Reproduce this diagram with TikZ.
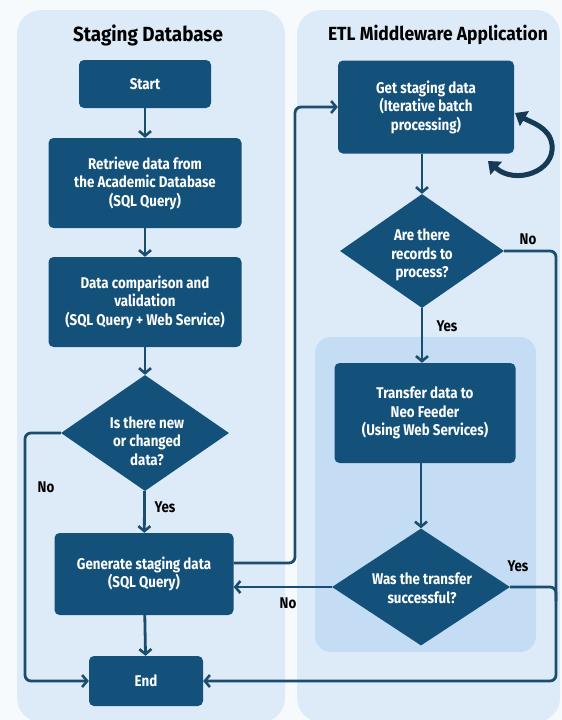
\documentclass[tikz,border=0pt]{standalone}
\usepackage{fontspec}
\setmainfont{PT Sans}
\newfontfamily\condf[FakeStretch=0.86]{Fira Sans}
\newfontfamily\ttlf[FakeStretch=0.92]{Fira Sans}
\usetikzlibrary{shapes.geometric,arrows.meta}
\definecolor{bgc}{HTML}{F7FAFD}
\definecolor{panelc}{HTML}{DDEBF9}
\definecolor{innerc}{HTML}{C5DDF4}
\definecolor{boxc}{HTML}{14517A}
\definecolor{linec}{HTML}{1B4D6E}
\definecolor{loopc}{HTML}{163A55}
\begin{document}
\begin{tikzpicture}[x=1pt,y=-1pt,
  boxtxt/.style={font=\condf\fontsize{15.5}{18.5}\selectfont\bfseries},
  flowbox/.style={boxtxt, fill=boxc, text=white, rounded corners=5pt, align=center, inner sep=0pt},
  dia/.style={diamond, fill=boxc, inner sep=0pt, aspect=1.45},
  diatxt/.style={boxtxt, text=white, align=center, inner sep=0pt},
  conn/.style={draw=linec, line width=2.8pt, rounded corners=6pt, -{Straight Barb[length=5pt,width=12pt,line width=2.6pt]}},
  plain/.style={draw=linec, line width=2.8pt, rounded corners=6pt},
  lbl/.style={font=\condf\fontsize{15.5}{17}\selectfont\bfseries, text=black, inner sep=0pt},
  ttl/.style={font=\ttlf\fontsize{19}{22}\selectfont\bfseries, text=black, inner sep=0pt}]
\useasboundingbox (0,0) rectangle (562,720);
\fill[bgc] (0,0) rectangle (562,720);
% panels
\fill[panelc, rounded corners=24pt] (17,10) rectangle (285,722);
\fill[panelc, rounded corners=24pt] (297,10) rectangle (560,722);
\fill[innerc, rounded corners=16pt] (315,337) rectangle (536,652);
% titles
\node[ttl, font=\ttlf\fontsize{20.5}{22}\selectfont\bfseries] (t1) at (148,35) {Staging Database};
\node[ttl] (t2) at (438,35) {ETL Middleware Application};
% left column
\node[flowbox, minimum width=132pt, minimum height=48pt] (start) at (145,84) {Start};
\node[flowbox, minimum width=193pt, minimum height=90pt] (retr) at (145,183) {Retrieve data from\\the Academic Database\\(SQL Query)};
\node[flowbox, minimum width=193pt, minimum height=90pt] (comp) at (145,302) {Data comparison and\\validation\\(SQL Query + Web Service)};
\node[dia, minimum width=168pt, minimum height=116pt] (d1) at (145,433) {};
\node[diatxt] (d1t) at (147,441) {Is there new\\or changed\\data?};
\node[flowbox, minimum width=179pt, minimum height=82pt] (gen) at (144,574) {Generate staging data\\(SQL Query)};
\node[flowbox, minimum width=114pt, minimum height=50pt] (endb) at (146,681) {End};
% right column
\node[flowbox, minimum width=176pt, minimum height=93pt] (get) at (426,107) {Get staging data\\(Iterative batch\\processing)};
\node[dia, minimum width=164pt, minimum height=114pt] (d2) at (422,251) {};
\node[diatxt] (d2t) at (422,255) {Are there\\records to\\process?};
\node[flowbox, minimum width=181pt, minimum height=100pt] (xfer) at (425,413) {Transfer data to\\Neo Feeder\\(Using Web Services)};
\node[dia, minimum width=178pt, minimum height=117pt] (d3) at (421,587) {};
\node[diatxt] (d3t) at (422,588) {Was the transfer\\successful?};
% helper coordinates
\coordinate (lx) at (25,0);
\coordinate (jx) at (295,0);
\coordinate (rx) at (556,0);
\coordinate (gout) at ([yshift=11pt]gen.east);
% left connectors
\draw[conn] (start) -- (retr);
\draw[conn] (retr) -- (comp);
\draw[conn] (comp) -- (d1);
\draw[conn] (d1) -- (gen);
\draw[conn] (gen) -- (endb);
\draw[conn] (d1.west) -- (d1.west -| lx) -- (lx |- endb.west) -- (endb.west);
\draw[conn] (gout) -- (gout -| jx) -- (jx |- get.west) -- (get.west);
% right connectors
\draw[conn] (get.south -| d2.north) -- (d2.north);
\draw[conn] (d2.south) -- (d2.south |- xfer.north);
\draw[conn] (xfer.south -| d3.north) -- (d3.north);
\draw[conn] (d3.west) -- (d3.west -| gen.east);
\draw[conn] (d2.east) -- (d2.east -| rx) -- (rx |- endb.east) -- (endb.east);
\draw[plain] (d3.east) -- (d3.east -| rx) -- ([yshift=-14pt]d3.east -| rx);
% loop arrow
\coordinate (la) at (488,161);
\coordinate (lb) at (515,113);
\draw[loopc, line width=5pt, {Triangle[length=11pt,width=17pt]}-{Triangle[length=11pt,width=17pt]}] (la) .. controls (515,185) and (555,172) .. (552,145) .. controls (550,127) and (530,122) .. (lb);
% labels
\node[lbl] (l1) at (46,487) {No};
\node[lbl] (l2) at (165,507) {Yes};
\node[lbl] (l3) at (528,239) {No};
\node[lbl] (l4) at (447,326) {Yes};
\node[lbl] (l5) at (518,566) {Yes};
\node[lbl] (l6) at (288,603) {No};
\end{tikzpicture}
\end{document}
